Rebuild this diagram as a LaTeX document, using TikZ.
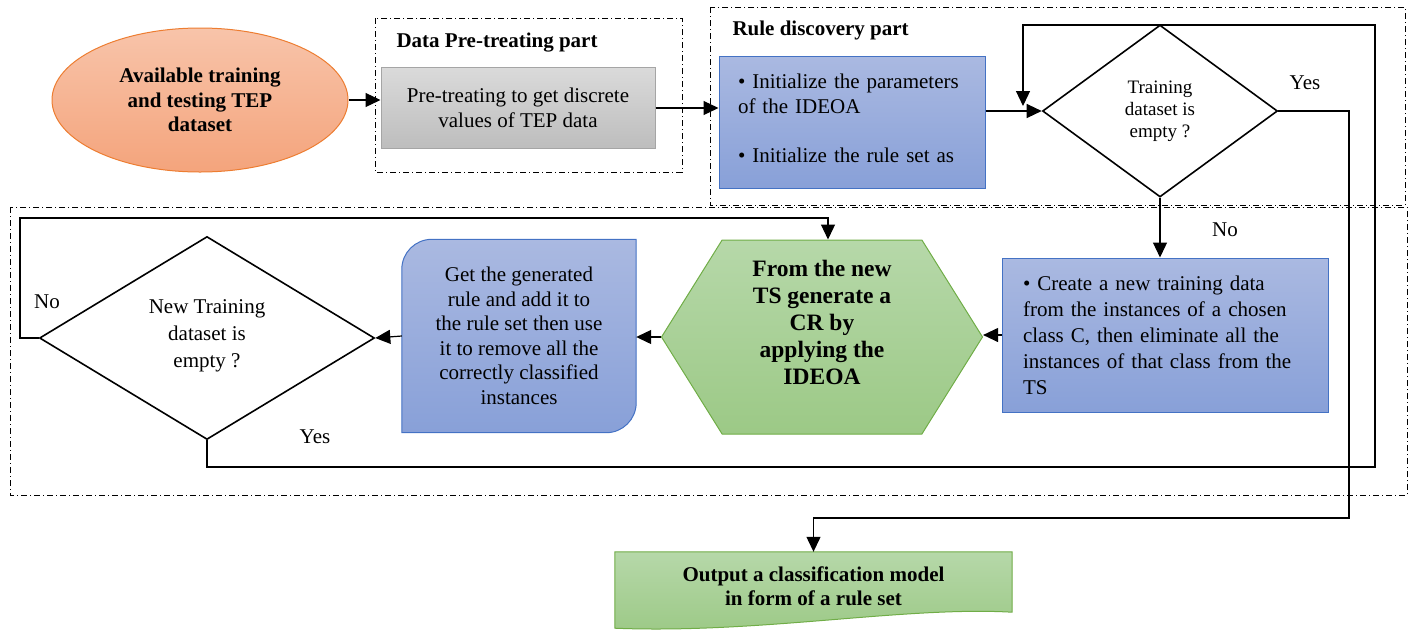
\documentclass[tikz,border=0pt]{standalone}
\usepackage{fontspec}
\setmainfont{Liberation Serif}
\usepackage{xcolor}
\usetikzlibrary{shapes, shapes.geometric, shapes.symbols, arrows.meta, positioning, calc}

\definecolor{orgline}{HTML}{ED7D31}
\definecolor{orgtop}{HTML}{F8C4AA}
\definecolor{orgbot}{HTML}{F4A47C}
\definecolor{grytop}{HTML}{DADADA}
\definecolor{grybot}{HTML}{BDBDBD}
\definecolor{gryline}{HTML}{A5A5A5}
\definecolor{blutop}{HTML}{AAB9E1}
\definecolor{blubot}{HTML}{88A0D8}
\definecolor{bluline}{HTML}{4472C4}
\definecolor{grntop}{HTML}{B6D8A9}
\definecolor{grnbot}{HTML}{9CC986}
\definecolor{grnline}{HTML}{70AD47}

\begin{document}
\begin{tikzpicture}[x=1pt, y=-1pt,
    txt/.style={font=\fontsize{21}{24.5}\selectfont},
    part/.style={draw, line width=0.9pt, dash pattern=on 6pt off 3pt on 1pt off 3pt},
    arr/.style={draw, line width=1.2pt, -{Triangle[length=15pt,width=14pt]}},
    bluebox/.style={rectangle, draw=bluline, line width=1pt, top color=blutop, bottom color=blubot, txt},
    greenshape/.style={draw=grnline, line width=1pt, top color=grntop, bottom color=grnbot},
    decision/.style={diamond, draw, line width=1.6pt, inner sep=0pt, align=center}]

  \useasboundingbox (0,0) rectangle (1412,630);

  % frames of the two parts
  \draw[part] (375,18) rectangle (682,172);
  \draw[part] (710,7) rectangle (1405,205);
  \draw[part] (10,207) rectangle (1407,495);
  \node[txt, font=\fontsize{21}{24}\selectfont\bfseries, anchor=west] (prelbl) at (393,43) {Data Pre-treating part};
  \node[txt, font=\fontsize{21}{24}\selectfont\bfseries, anchor=west] (rulelbl) at (729,30) {Rule discovery part};

  \node[ellipse, draw=orgline, line width=1pt, top color=orgtop, bottom color=orgbot,
        minimum width=296, minimum height=144, txt, font=\fontsize{21}{24.5}\selectfont\bfseries, align=center]
        (avail) at (200,100) {Available training\\and testing TEP\\dataset};
  \node[rectangle, draw=gryline, line width=1pt, top color=grytop, bottom color=grybot,
        minimum width=274, minimum height=81, txt, align=center]
        (pre) at (518,108) {Pre-treating to get discrete\\values of TEP data};
  \node[bluebox, minimum width=266, minimum height=132, text width=228, inner xsep=19, align=left]
        (init) at (852,122) {\textbullet\ Initialize the parameters\\of the IDEOA\\[24.5pt]\textbullet\ Initialize the rule set as\\[-17pt]\mbox{}};
  \node[decision, minimum width=235, minimum height=172, font=\fontsize{19}{22}\selectfont]
        (dec1) at (1160,111) {Training\\dataset is\\empty ?};

  \node[bluebox, minimum width=326, minimum height=154, text width=284, inner xsep=21, align=left,
        font=\fontsize{21}{26}\selectfont]
        (create) at (1165,335) {\textbullet\ Create a new training data\\from the instances of a chosen\\class C, then eliminate all the\\instances of that class from the\\TS};
  \node[signal, signal to=west and east, signal pointer angle=116, greenshape,
        minimum width=321, minimum height=194, inner sep=0pt]
        (hex) at (822,337) {};
  \node[font=\fontsize{23.5}{27}\selectfont\bfseries, align=center] (hextxt) at (822,322)
        {From the new\\TS generate a\\CR by\\applying the\\IDEOA};
  \node[rectangle, minimum width=234, minimum height=193, txt, align=center]
        (get) at (519,336) {};
  \draw[line width=1pt, draw=bluline, top color=blutop, bottom color=blubot]
        (get.west) [rounded corners=30pt] -- (get.north west) -- (get.north) [sharp corners]
        -- (get.north east) -- (get.east) [rounded corners=30pt] -- (get.south east)
        -- (get.south) [sharp corners] -- (get.south west) -- cycle;
  \node[txt, align=center] (gettxt) at (get.center)
        {Get the generated\\rule and add it to\\the rule set then use\\it to remove all the\\correctly classified\\instances};
  \node[decision, minimum width=335, minimum height=203, font=\fontsize{21}{27}\selectfont]
        (dec2) at (207,338) {New Training\\dataset is\\\strut empty ?};

  \node[rectangle, minimum width=397, minimum height=64, txt, align=center]
        (out) at (813.5,584) {};
  \draw[greenshape] (out.south west) -- (out.north west) -- (out.north east) -- ($(out.south east)+(0,-4)$)
        .. controls (905,606) and (760,634) .. ($(out.south west)+(0,12)$) -- cycle;
  \node[txt, font=\fontsize{21}{24}\selectfont\bfseries, align=center] (outtxt) at (813.5,586)
        {Output a classification model\\in form of a rule set};

  \coordinate (loopA) at (1375,467);
  \coordinate (loopB) at (1375,25);
  \coordinate (yesA) at (1349,518);
  \coordinate (noA) at (20,218);

  \draw[arr] (avail.east) -- (avail.east -| pre.west);
  \draw[arr] (pre.east) -- (pre.east -| init.west);
  \draw[arr] (init.east |- dec1.west) -- (dec1.west);
  \draw[arr] (dec2.south) |- (loopA) -- (loopB) -| (1023,106);
  \draw[arr] (dec1.east) -| (yesA) -| (out.north);
  \draw[arr] (dec1.south) -- (dec1.south |- create.north);
  \draw[arr] (create.west) -- (create.west -| hex.east);
  \draw[arr] (hex.west) -- (hex.west -| get.east);
  \draw[arr] (get.west) -- (dec2.east);
  \draw[arr] (dec2.west) -| (noA) -| ($(hex.north)+(6,0)$);

  \node[txt] (yes1) at (1305,83) {Yes};
  \node[txt] (no1) at (1225,230) {No};
  \node[txt] (no2) at (47,302) {No};
  \node[txt] (yes2) at (315,437) {Yes};
\end{tikzpicture}
\end{document}
